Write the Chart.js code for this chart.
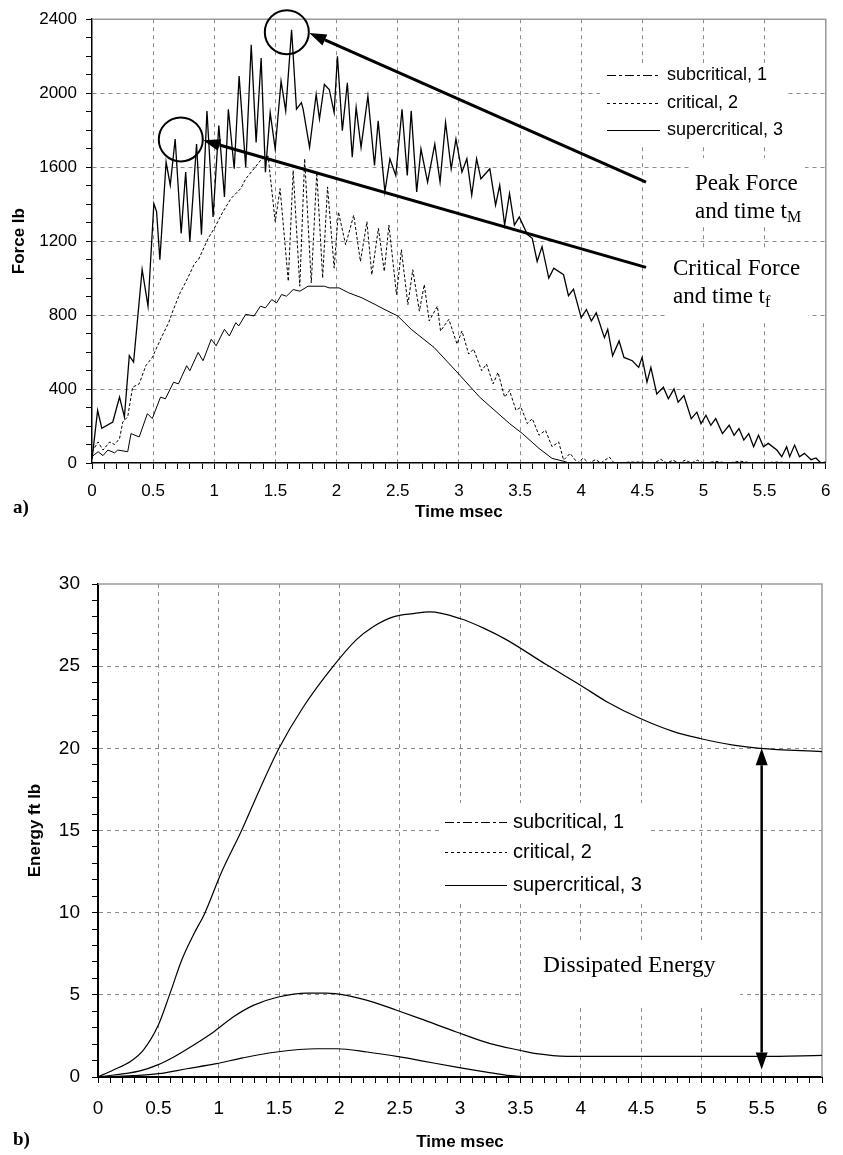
<!DOCTYPE html>
<html>
<head>
<meta charset="utf-8">
<script src="https://cdn.jsdelivr.net/npm/chart.js@4/dist/chart.umd.min.js"></script>
<style>
    body { margin: 0; background: #fff; width: 843px; height: 1155px; position: relative; overflow: hidden; }
    canvas { position: absolute; left: 0; }
    #forceChart { top: 0; }
    #energyChart { top: 560px; }
    .tag { position: absolute; left: 13px; font: bold 19px "Liberation Serif"; line-height: 1; }
</style>
</head>
<body>
<canvas id="forceChart" width="843" height="530"></canvas>
<canvas id="energyChart" width="843" height="595"></canvas>
<div class="tag" style="top:497px">a)</div>
<div class="tag" style="top:1129px">b)</div>
<script>
// ---- a) force history, time in msec, force in lb
var superT = [0, 0.046, 0.08, 0.17, 0.225, 0.265, 0.305, 0.34, 0.41, 0.458, 0.506, 0.528, 0.555, 0.606, 0.64, 0.68, 0.729, 0.766, 0.8, 0.855,
    0.895, 0.94, 0.99, 1.037, 1.083, 1.115, 1.163, 1.203, 1.257, 1.302, 1.342, 1.383, 1.418, 1.457, 1.498, 1.546, 1.584, 1.632, 1.672, 1.712,
    1.726, 1.779, 1.833, 1.86, 1.9, 1.94, 1.98, 2.007, 2.047, 2.088, 2.128, 2.16, 2.2, 2.256, 2.31, 2.34, 2.395, 2.436, 2.484, 2.535,
    2.578, 2.61, 2.655, 2.69, 2.744, 2.803, 2.846, 2.891, 2.937, 2.976, 3.025, 3.065, 3.105, 3.145, 3.18, 3.253, 3.3, 3.334, 3.374, 3.414,
    3.454, 3.494, 3.56, 3.6, 3.64, 3.68, 3.735, 3.776, 3.856, 3.896, 3.937, 4.0, 4.043, 4.083, 4.123, 4.19, 4.217, 4.257, 4.31, 4.35,
    4.418, 4.47, 4.498, 4.538, 4.57, 4.618, 4.672, 4.713, 4.759, 4.793, 4.84, 4.9, 4.946, 4.98, 5.02, 5.06, 5.1, 5.155, 5.21, 5.25,
    5.29, 5.33, 5.37, 5.41, 5.45, 5.49, 5.53, 5.6, 5.64, 5.68, 5.705, 5.745, 5.785, 5.825, 5.88, 5.92, 5.96, 6.0];
var superF = [20, 285, 188, 222, 356, 249, 580, 545, 1047, 848, 1403, 1360, 1100, 1627, 1503, 1752, 1242, 1573, 1197, 1725,
    1235, 1904, 1331, 1825, 1439, 1913, 1591, 2092, 1600, 2262, 1734, 2190, 1573, 1895, 1698, 2065, 1904, 2343, 1913, 1949,
    1915, 1707, 1994, 1860, 2047, 2020, 1895, 2200, 1797, 2056, 1654, 1922, 1707, 1985, 1609, 1850, 1466, 1645, 1555, 1913,
    1555, 1904, 1466, 1698, 1519, 1725, 1519, 1842, 1591, 1752, 1573, 1645, 1448, 1645, 1537, 1591, 1394, 1502, 1287, 1457,
    1287, 1331, 1235, 1215, 1090, 1170, 1000, 1054, 1018, 905, 940, 786, 830, 768, 812, 678, 723, 580, 660, 571,
    553, 517, 571, 437, 517, 374, 410, 347, 401, 329, 365, 240, 275, 213, 258, 204, 240, 159, 204, 150,
    186, 124, 159, 88, 150, 88, 106, 70, 34, 88, 34, 97, 34, 52, 18, 27, 0, 5];

var critT = [0, 0.05, 0.09, 0.145, 0.185, 0.225, 0.252, 0.292, 0.332, 0.386, 0.44, 0.493, 0.573, 0.627, 0.654, 0.72, 0.76, 0.84, 0.87, 0.95,
    1.0, 1.07, 1.136, 1.216, 1.257, 1.324, 1.377, 1.404, 1.44, 1.498, 1.538, 1.605, 1.645, 1.699, 1.739, 1.793, 1.838, 1.886, 1.926, 1.98,
    2.015, 2.074, 2.14, 2.195, 2.248, 2.288, 2.342, 2.39, 2.428, 2.49, 2.53, 2.583, 2.623, 2.677, 2.717, 2.757, 2.824, 2.85, 2.918, 2.985,
    3.025, 3.08, 3.12, 3.186, 3.226, 3.28, 3.32, 3.374, 3.414, 3.467, 3.507, 3.56, 3.6, 3.655, 3.708, 3.762, 3.816, 3.856, 3.91, 3.97,
    4.017, 4.06, 4.12, 4.16, 4.23, 4.27, 4.4, 4.5, 4.6, 4.65, 4.7, 4.75, 4.8, 4.85, 4.9, 4.95, 5.0, 5.1, 5.2, 5.3,
    5.4, 5.6, 5.8, 6.0];
var critF = [60, 114, 70, 114, 100, 132, 222, 250, 410, 428, 526, 571, 687, 759, 810, 920, 970, 1080, 1099, 1215,
    1269, 1358, 1430, 1484, 1537, 1591, 1636, 1650, 1660, 1305, 1484, 983, 1582, 956, 1645, 974, 1573, 1000, 1493, 1054,
    1358, 1180, 1340, 1090, 1305, 1018, 1269, 1036, 1287, 911, 1153, 857, 1045, 821, 965, 768, 848, 714, 777, 643,
    714, 589, 616, 499, 535, 428, 490, 356, 392, 285, 302, 213, 240, 150, 177, 88, 114, 16, 52, 0,
    27, 0, 18, 0, 32, 0, 5, 5, 0, 20, 0, 15, 0, 15, 0, 15, 0, 8, 0, 10,
    0, 5, 0, 0];

var subT = [0, 0.05, 0.09, 0.13, 0.185, 0.21, 0.292, 0.319, 0.386, 0.453, 0.493, 0.56, 0.6, 0.667, 0.707, 0.774, 0.8, 0.868, 0.908, 0.975,
    1.015, 1.083, 1.123, 1.176, 1.2, 1.257, 1.325, 1.377, 1.418, 1.47, 1.51, 1.55, 1.59, 1.645, 1.7, 1.766, 1.9, 1.94, 2.02, 2.1,
    2.208, 2.315, 2.42, 2.5, 2.61, 2.797, 2.998, 3.17, 3.415, 3.52, 3.655, 3.762, 3.86, 3.9, 6.0];
var subF = [35, 61, 40, 70, 55, 70, 61, 159, 141, 267, 240, 356, 347, 437, 428, 526, 499, 598, 553, 669,
    634, 723, 687, 759, 741, 804, 795, 848, 839, 884, 866, 911, 902, 938, 929, 956, 956, 947, 947, 920,
    893, 857, 821, 795, 723, 625, 482, 356, 213, 159, 79, 25, 9, 0, 0];

// ---- b) absorbed energy, ft lb
var eSuperT = [0, 0.127, 0.265, 0.376, 0.5, 0.597, 0.694, 0.79, 0.887, 1.02, 1.19, 1.34, 1.5, 1.7, 1.95, 2.14, 2.28, 2.447, 2.613, 2.75,
    3.0, 3.2, 3.387, 3.718, 3.995, 4.216, 4.49, 4.77, 4.99, 5.265, 5.486, 6.0];
var eSuperE = [0, 0.43, 0.93, 1.64, 3.16, 5.09, 7.12, 8.64, 10.0, 12.4, 15.0, 17.5, 20.0, 22.5, 25.0, 26.6, 27.4, 28.0, 28.2, 28.3,
    27.9, 27.3, 26.6, 25.08, 23.86, 22.84, 21.83, 21.02, 20.6, 20.2, 20.0, 19.8];
var eCritT = [0, 0.348, 0.5, 0.624, 0.79, 0.958, 1.12, 1.287, 1.494, 1.73, 1.89, 2.06, 2.28, 2.475, 2.67, 2.97, 3.25, 3.5, 3.635, 3.885,
    4.5, 5.0, 5.5, 6.0];
var eCritE = [0, 0.37, 0.75, 1.2, 1.93, 2.74, 3.65, 4.36, 4.87, 5.11, 5.11, 4.97, 4.56, 4.06, 3.55, 2.74, 2.03, 1.62, 1.42, 1.26,
    1.25, 1.25, 1.25, 1.32];
var eSubT = [0, 0.29, 0.5, 0.735, 0.98, 1.2, 1.48, 1.81, 1.98, 2.23, 2.5, 2.67, 2.97, 3.22, 3.39, 3.5];
var eSubE = [0, 0.08, 0.2, 0.5, 0.81, 1.16, 1.52, 1.72, 1.72, 1.52, 1.22, 1.0, 0.6, 0.3, 0.1, 0.04];

var seriesNames = ["subcritical, 1", "critical, 2", "supercritical, 3"];
var legendDash = [[9, 3, 3, 3], [3, 3], []];

function toPoints(xs, ys) {
    var pts = [];
    for (var i = 0; i < xs.length; i++) {
        pts.push({x: xs[i], y: ys[i]});
    }
    return pts;
}

function isMajor(v, step) {
    var r = v / step;
    return Math.abs(r - Math.round(r)) < 1e-6;
}

function majorLabel(step) {
    return function (v) {
        return isMajor(v, step) ? String(Math.round(v * 10) / 10) : '';
    };
}

function gridColor(step, min, max) {
    return function (c) {
        var v = c.tick.value;
        if (Math.abs(v - min) < 1e-6 || Math.abs(v - max) < 1e-6) return 'rgba(0,0,0,0)';
        return isMajor(v, step) ? '#8c8c8c' : 'rgba(0,0,0,0)';
    };
}

function makeAxis(o) {
    return {
        type: 'linear',
        min: o.min,
        max: o.max,
        afterFit: o.fit,
        ticks: {
            stepSize: o.minor,
            autoSkip: false,
            maxRotation: 0,
            padding: o.pad,
            color: '#000',
            font: {family: 'Liberation Sans', size: o.size},
            callback: majorLabel(o.major)
        },
        grid: {
            color: gridColor(o.major, o.min, o.max),
            lineWidth: 1,
            tickColor: '#000',
            tickLength: 6,
            tickWidth: 1
        },
        border: {display: true, color: '#000', width: o.axisWidth, dash: [4, 4]},
        title: {
            display: true,
            text: o.title,
            color: '#000',
            font: {family: 'Liberation Sans', size: 17, weight: 'bold'},
            padding: o.titlePad
        }
    };
}

function line(label, pts, dash, width, smooth) {
    return {
        label: label,
        data: pts,
        borderColor: '#000',
        borderWidth: width,
        borderDash: dash,
        pointRadius: 0,
        tension: smooth ? 0.4 : 0,
        cubicInterpolationMode: smooth ? 'monotone' : 'default',
        fill: false
    };
}

function drawArrow(ctx, x0, y0, x1, y1, len, half) {
    var a = Math.atan2(y1 - y0, x1 - x0);
    var bx = x1 - len * Math.cos(a), by = y1 - len * Math.sin(a);
    ctx.beginPath();
    ctx.moveTo(x0, y0);
    ctx.lineTo(bx, by);
    ctx.stroke();
    ctx.beginPath();
    ctx.moveTo(x1, y1);
    ctx.lineTo(bx + half * Math.sin(a), by - half * Math.cos(a));
    ctx.lineTo(bx - half * Math.sin(a), by + half * Math.cos(a));
    ctx.closePath();
    ctx.fill();
}

function drawLegend(ctx, box, x0, x1, tx, rows, size) {
    ctx.save();
    ctx.fillStyle = '#fff';
    ctx.fillRect(box[0], box[1], box[2], box[3]);
    ctx.strokeStyle = '#000';
    ctx.fillStyle = '#000';
    ctx.lineWidth = 1;
    ctx.font = size + 'px "Liberation Sans"';
    ctx.textBaseline = 'middle';
    for (var i = 0; i < seriesNames.length; i++) {
        ctx.setLineDash(legendDash[i]);
        ctx.beginPath();
        ctx.moveTo(x0, rows[i] + 0.5);
        ctx.lineTo(x1, rows[i] + 0.5);
        ctx.stroke();
        ctx.setLineDash([]);
        ctx.fillText(seriesNames[i], tx, rows[i]);
    }
    ctx.restore();
}

function subText(ctx, main, sub, x, y, size) {
    ctx.font = size + 'px "Liberation Serif"';
    ctx.fillText(main, x, y);
    var w = ctx.measureText(main).width;
    ctx.font = Math.round(size * 0.68) + 'px "Liberation Serif"';
    ctx.fillText(sub, x + w, y + 4);
}

// gray frame on top and right like the spreadsheet plot area
var frame = {
    id: 'frame',
    beforeDatasetsDraw: function (chart) {
        var a = chart.chartArea, ctx = chart.ctx;
        ctx.save();
        ctx.strokeStyle = '#9a9a9a';
        ctx.lineWidth = 1.5;
        ctx.beginPath();
        ctx.moveTo(a.left, a.top);
        ctx.lineTo(a.right, a.top);
        ctx.lineTo(a.right, a.bottom);
        ctx.stroke();
        ctx.restore();
    }
};

var forceNotes = {
    id: 'forceNotes',
    afterDraw: function (chart) {
        var ctx = chart.ctx, sx = chart.scales.x, sy = chart.scales.y;
        ctx.save();
        ctx.fillStyle = '#fff';
        ctx.fillRect(690, 158, 115, 66);
        ctx.fillRect(668, 250, 140, 70);
        drawLegend(ctx, [600, 63, 187, 82], 607, 660, 667, [75, 103, 130], 18);

        ctx.strokeStyle = '#000';
        ctx.fillStyle = '#000';
        ctx.lineWidth = 2;
        [[1.593, 2330], [0.726, 1750]].forEach(function (c) {
            ctx.beginPath();
            ctx.arc(sx.getPixelForValue(c[0]), sy.getPixelForValue(c[1]), 22, 0, Math.PI * 2);
            ctx.stroke();
        });
        ctx.lineWidth = 3;
        drawArrow(ctx, sx.getPixelForValue(4.53), sy.getPixelForValue(1519),
            sx.getPixelForValue(1.777), sy.getPixelForValue(2325), 17, 6);
        drawArrow(ctx, sx.getPixelForValue(4.53), sy.getPixelForValue(1058),
            sx.getPixelForValue(0.909), sy.getPixelForValue(1745), 17, 6);

        ctx.textBaseline = 'alphabetic';
        ctx.font = '23px "Liberation Serif"';
        ctx.fillText('Peak Force', 695, 190);
        subText(ctx, 'and time t', 'M', 695, 218, 23);
        ctx.font = '23px "Liberation Serif"';
        ctx.fillText('Critical Force', 673, 275);
        subText(ctx, 'and time t', 'f', 673, 303, 23);
        ctx.restore();
    }
};

var energyNotes = {
    id: 'energyNotes',
    afterDraw: function (chart) {
        var ctx = chart.ctx, sx = chart.scales.x, sy = chart.scales.y;
        ctx.save();
        drawLegend(ctx, [440, 243, 208, 97], 445, 507, 513, [262, 292, 325], 20);
        ctx.fillStyle = '#fff';
        ctx.fillRect(523, 382, 217, 65);
        ctx.fillStyle = '#000';
        ctx.font = '23.5px "Liberation Serif"';
        ctx.textBaseline = 'alphabetic';
        ctx.fillText('Dissipated Energy', 543, 412);

        ctx.strokeStyle = '#000';
        ctx.lineWidth = 2.5;
        var x = sx.getPixelForValue(5.5);
        var yLow = sy.getPixelForValue(0.45), yHigh = sy.getPixelForValue(20);
        var yMid = (yLow + yHigh) / 2;
        drawArrow(ctx, x, yMid, x, yHigh, 17, 6);
        drawArrow(ctx, x, yMid, x, yLow, 17, 6);
        ctx.restore();
    }
};

var forceCanvas = document.getElementById("forceChart");
var forceChart = new Chart(forceCanvas, {
    type: 'line',
    data: {
        datasets: [
            line(seriesNames[0], toPoints(subT, subF), [], 1, false),
            line(seriesNames[1], toPoints(critT, critF), [3, 2], 1, false),
            line(seriesNames[2], toPoints(superT, superF), [], 1.3, false)
        ]
    },
    options: {
        responsive: false,
        animation: false,
        events: [],
        layout: {padding: {left: 0, right: 5, top: 16, bottom: 0}},
        plugins: {legend: {display: false}, tooltip: {enabled: false}},
        scales: {
            x: makeAxis({min: 0, max: 6, minor: 0.1, major: 0.5, size: 17, pad: 12.5, axisWidth: 1.5,
                title: 'Time msec', titlePad: {top: 0, bottom: 7},
                fit: function (s) { s.height = 67; }}),
            y: makeAxis({min: 0, max: 2400, minor: 100, major: 400, size: 17, pad: 9, axisWidth: 1.5,
                title: 'Force lb', titlePad: {top: 9, bottom: 0},
                fit: function (s) { s.width = 92; }})
        }
    },
    plugins: [frame, forceNotes]
});

var energyCanvas = document.getElementById("energyChart");
var energyChart = new Chart(energyCanvas, {
    type: 'line',
    data: {
        datasets: [
            line(seriesNames[0], toPoints(eSubT, eSubE), [], 1.2, true),
            line(seriesNames[1], toPoints(eCritT, eCritE), [], 1.2, true),
            line(seriesNames[2], toPoints(eSuperT, eSuperE), [], 1.2, true)
        ]
    },
    options: {
        responsive: false,
        animation: false,
        events: [],
        layout: {padding: {left: 0, right: 21, top: 24, bottom: 0}},
        plugins: {legend: {display: false}, tooltip: {enabled: false}},
        scales: {
            x: makeAxis({min: 0, max: 6, minor: 0.1, major: 0.5, size: 19, pad: 14, axisWidth: 2,
                title: 'Time msec', titlePad: {top: 0, bottom: 2},
                fit: function (s) { s.height = 78; }}),
            y: makeAxis({min: 0, max: 30, minor: 1, major: 5, size: 19, pad: 12, axisWidth: 2,
                title: 'Energy ft lb', titlePad: {top: 25, bottom: 0},
                fit: function (s) { s.width = 98; }})
        }
    },
    plugins: [frame, energyNotes]
});
</script>
</body>
</html>
